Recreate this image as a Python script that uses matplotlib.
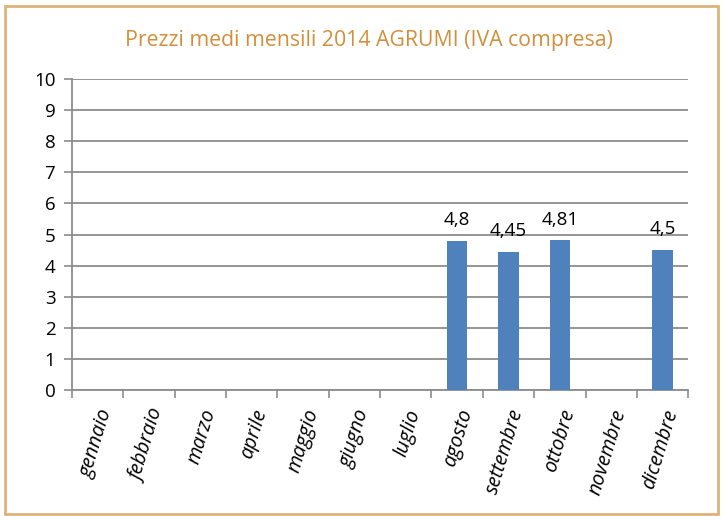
import matplotlib
matplotlib.use("Agg")
import matplotlib.pyplot as plt
from matplotlib.patches import Rectangle
import matplotlib.transforms as mtransforms
import numpy as np

# chart data
mesi = ["gennaio", "febbraio", "marzo", "aprile", "maggio", "giugno",
        "luglio", "agosto", "settembre", "ottobre", "novembre", "dicembre"]
prezzi = [None, None, None, None, None, None, None, 4.8, 4.45, 4.81, None, 4.5]
etichette = ["", "", "", "", "", "", "", "4,8", "4,45", "4,81", "", "4,5"]
y_ticks = list(range(0, 11))

plt.rcParams['font.family'] = ['Open Sans', 'DejaVu Sans']

fig = plt.figure(figsize=(7.25, 5.16), dpi=100)
ax = fig.add_axes([0.0993, 0.244, 0.850, 0.603])

# outer border
fig.patches.append(Rectangle((5 / 725, 2 / 516), 713 / 725, 508 / 516,
                             transform=fig.transFigure, fill=False,
                             edgecolor='#DDB37A', linewidth=2))

x = np.arange(len(mesi))
for i, v in enumerate(prezzi):
    if v is None:
        continue
    ax.bar(x[i], v, width=0.4, color='#4F81BD', zorder=3)
    ax.text(x[i], v + 0.38, etichette[i], ha='center', va='bottom', fontsize=13.5, color='black')

ax.set_xlim(-0.5, len(mesi) - 0.5)
ax.set_ylim(0, 10)
ax.set_yticks(y_ticks)
ax.set_yticklabels([str(t) for t in y_ticks], fontsize=13.5)
ax.yaxis.grid(True, color='#8C8C8C', linewidth=1.3, zorder=0)
ax.set_axisbelow(True)

ax.set_xticks(np.arange(-0.5, len(mesi), 1))
ax.set_xticklabels([])
ax.set_xticks(x, minor=True)
ax.set_xticklabels(mesi, minor=True, rotation=73, ha='right', va='top',
                   fontsize=14.3, style='italic', rotation_mode='anchor')
offset = mtransforms.ScaledTranslation(9 / 100, 0, fig.dpi_scale_trans)
for lab in ax.get_xticklabels(minor=True):
    lab.set_transform(lab.get_transform() + offset)
ax.tick_params(axis='x', which='minor', length=0, pad=12)
ax.tick_params(axis='x', which='major', length=6, color='#8C8C8C', width=1.2)
ax.tick_params(axis='y', length=6, color='#8C8C8C', width=1.2, pad=6)

for s in ['top', 'right']:
    ax.spines[s].set_visible(False)
for s in ['left', 'bottom']:
    ax.spines[s].set_color('#8C8C8C')
    ax.spines[s].set_linewidth(1.3)

fig.text(0.509, 0.922, "Prezzi medi mensili 2014 AGRUMI (IVA compresa)",
         ha='center', va='center', fontsize=15.3, color='#D28F3A')

fig.savefig("out.png", dpi=100)
